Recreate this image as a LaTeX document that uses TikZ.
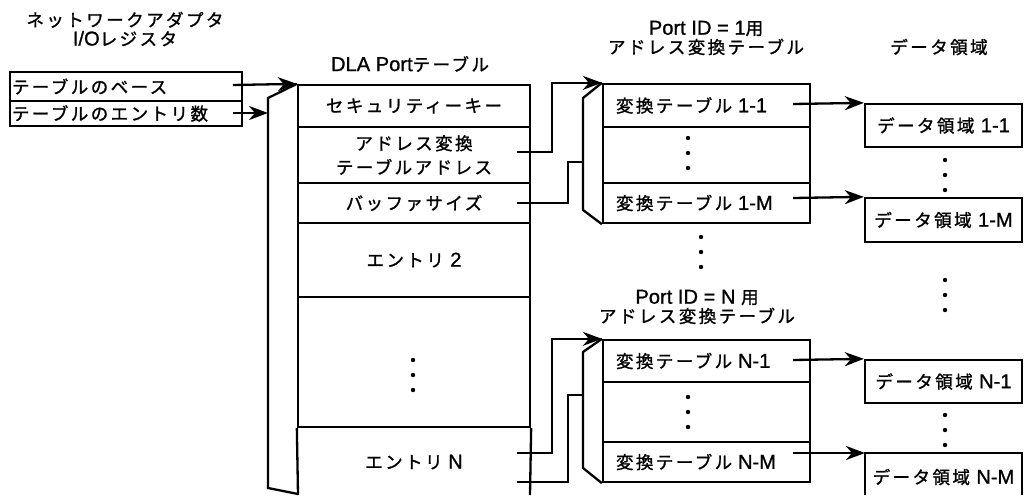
\documentclass[tikz,border=0pt]{standalone}
\usepackage{fontspec}
\newfontfamily\jp[LetterSpace=14,FakeBold=1.2]{Noto Sans CJK JP}
\newfontfamily\la[FakeBold=1,Scale=1.15]{Liberation Sans}
\usetikzlibrary{arrows.meta,calc}
\newcommand\vdotsat[2]{\fill (#1,#2) circle[radius=2.2pt] (#1,#2+15) circle[radius=2.2pt] (#1,#2+30) circle[radius=2.2pt];}
\begin{document}
\begin{tikzpicture}[x=1pt,y=-1pt,
  ln/.style={line width=2.3pt},
  arr/.style={ln,-{Stealth[length=19pt,width=14pt,inset=6pt]}},
  txt/.style={font=\jp\fontsize{17.5}{19}\selectfont, inner sep=0pt, align=center},
  cell/.style={txt, draw, ln, rectangle, minimum width=#1},
  regc/.style={txt, draw, ln, rectangle, minimum width=232pt, text width=228pt, inner xsep=2pt, align=left},
  tcell/.style={txt, draw, ln, rectangle, minimum width=207pt, text width=181pt, inner xsep=13pt, align=left}
]
\useasboundingbox (0,0) rectangle (1027,495);

% register
\node[txt] (nal) at (125,29) {ネットワークアダプタ\\{\la I/O}レジスタ};
\node[regc, minimum height=29pt] (reg1) at (126,86.5) {テーブルのベース};
\node[regc, minimum height=25pt] (reg2) at (126,113.5) {テーブルのエントリ数};
\coordinate (r1s) at (233,85);
\coordinate (r2s) at (233,113);

% DLA port table
\node[txt] (dlat) at (410,64) {{\la DLA Port}テーブル};
\node[cell=232pt, minimum height=42pt] (sec) at (414,106) {セキュリティーキー};
\node[cell=232pt, minimum height=56pt] (addr) at (414,155) {アドレス変換\\[5pt]テーブルアドレス};
\node[cell=232pt, minimum height=40pt] (buf) at (414,203) {バッファサイズ};
\node[cell=232pt, minimum height=74pt] (e2) at (414,260) {エントリ {\la 2}};
\node[cell=232pt, minimum height=130pt] (edots) at (414,362) {};
\node[txt] (eN) at (414,462) {エントリ{\la\ N}};
\draw[ln] (edots.south west) -- (298,495);
\draw[ln] (edots.south east) -- (530,495);
\draw[ln] (sec.north west) -- (268,98) -- (268,488) -- (298,494);
\vdotsat{413}{360}
\coordinate (b0) at (268,113);
\draw[arr] (r1s) -- (sec.north west);
\draw[arr] (r2s) -- (b0);

% table 1
\node[txt] (t1t) at (706,38) {{\la Port ID = 1}用\\アドレス変換テーブル};
\node[tcell, minimum height=43pt] (t11) at (706.5,105.5) {変換テーブル {\la 1-1}};
\node[cell=207pt, minimum height=56pt] (t1d) at (706.5,155) {};
\node[tcell, minimum height=40pt] (t1M) at (706.5,203) {変換テーブル {\la 1-M}};
\draw[ln] (t11.north west) -- (583,98) -- (583,210) -- (t1M.south west);
\vdotsat{688}{138}
\coordinate (aS) at (517,152);
\coordinate (bS) at (517,203);
\coordinate (b1) at (583,162);
\draw[arr] (aS) -- ++(35,0) |- (t11.north west);
\draw[ln] (bS) -- ++(51,0) |- (b1);

\vdotsat{701}{237}

% table N
\node[txt] (tNt) at (697,307) {{\la Port ID = N }用\\アドレス変換テーブル};
\node[tcell, minimum height=42pt] (tN1) at (706.5,361) {変換テーブル {\la N-1}};
\node[cell=207pt, minimum height=60pt] (tNd) at (706.5,412) {};
\node[tcell, minimum height=40pt] (tNM) at (706.5,462) {変換テーブル {\la N-M}};
\draw[ln] (tN1.north west) -- (583,352) -- (583,468) -- (tNM.south west);
\vdotsat{688}{397}
\coordinate (cS) at (517,453);
\coordinate (dS) at (517,482);
\coordinate (bN) at (583,395);
\draw[arr] (cS) -- ++(35,0) |- (tN1.north west);
\draw[ln] (dS) -- ++(51,0) |- (bN);

% data areas
\node[txt] (dt) at (939,47) {データ領域};
\node[cell=157pt, minimum height=43pt] (d11) at (943.5,125.5) {データ領域 {\la 1-1}};
\node[cell=157pt, minimum height=44pt] (d1M) at (943.5,220) {データ領域 {\la 1-M}};
\node[cell=157pt, minimum height=43pt] (dN1) at (943.5,381.5) {データ領域 {\la N-1}};
\node[txt] (dNM) at (943.5,477) {データ領域 {\la N-M}};
\coordinate (dNMc) at (865,453);
\draw[ln] (865,495) -- (dNMc) -- (1022,453) -- (1022,495);
\vdotsat{945}{160}
\vdotsat{945}{280}
\vdotsat{945}{415}

\coordinate (s11) at (793,104);
\coordinate (s1M) at (793,198);
\coordinate (sN1) at (793,360);
\coordinate (sNM) at (793,453);
\draw[arr] (s11) -- (d11.north west);
\draw[arr] (s1M) -- (d1M.north west);
\draw[arr] (sN1) -- (dN1.north west);
\draw[arr] (sNM) -- (dNMc);
\end{tikzpicture}
\end{document}
